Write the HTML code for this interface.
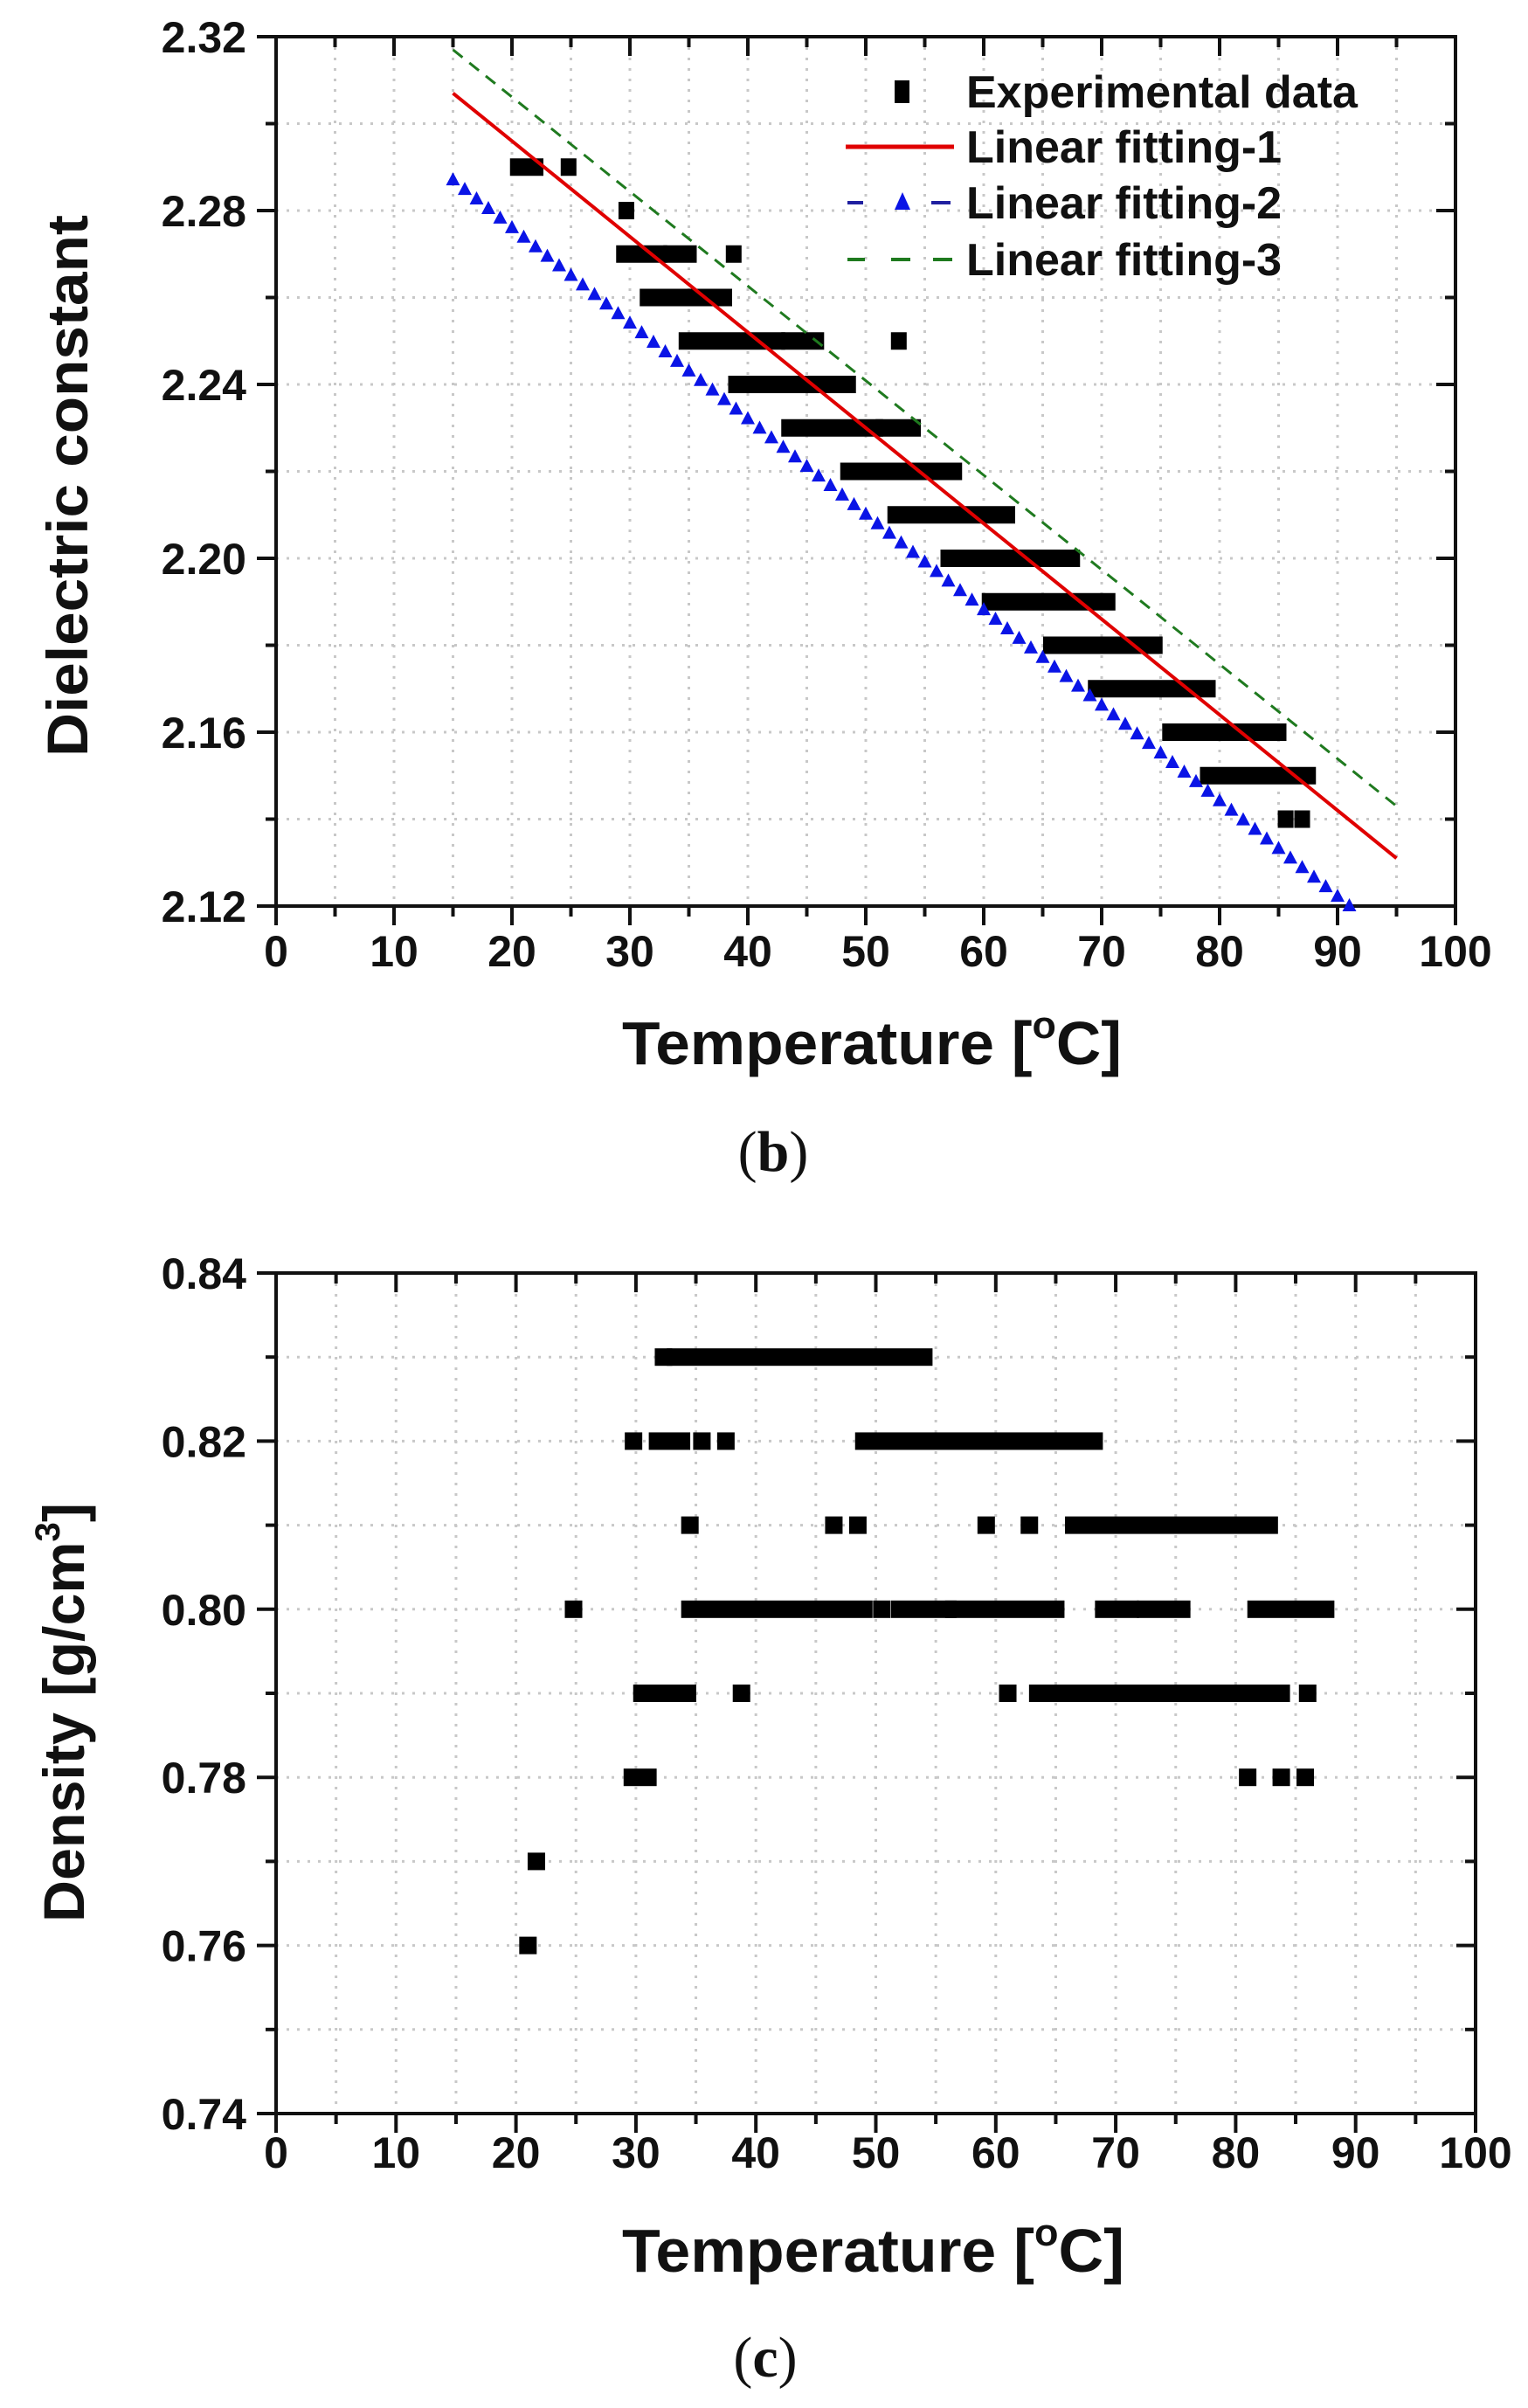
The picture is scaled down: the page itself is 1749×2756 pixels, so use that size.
<!DOCTYPE html>
<html><head><meta charset="utf-8"><style>
body{margin:0;background:#fff}
svg{display:block}
text{font-family:"Liberation Sans",Arial,sans-serif;font-weight:bold;fill:#111}
</style></head><body>
<svg id="fig" xmlns="http://www.w3.org/2000/svg" width="1749" height="2756" viewBox="0 0 1749 2756"></svg>
<script>
// ---------- chart (b) data ----------
const bRowValues = [2.29,2.29,2.28,2.27,2.27,2.27,2.26,2.25,2.25,2.25,2.24,2.23,2.23,2.22,2.21,2.20,2.19,2.18,2.17,2.16,2.16,2.15,2.14,2.14];
const bRowStart  = [20.5,24.8,29.7,29.5,33.5,38.8,31.5,34.8,43.5,52.8,39.0,43.5,51.5,48.5,52.5,57.0,60.5,65.7,69.5,75.8,79.0,79.0,85.6,87.0];
const bRowEnd    = [22.0,24.8,29.7,32.5,35.0,38.8,38.0,42.5,45.8,52.8,48.5,50.8,54.0,57.5,62.0,67.5,70.5,74.5,79.0,78.0,85.0,87.5,85.6,87.0];
const fitNames = ['Linear fitting-1','Linear fitting-2','Linear fitting-3'];
const fitX0 = [15,15,15];
const fitY0 = [2.307,2.287,2.317];
const fitX1 = [95,91,95];
const fitY1 = [2.131,2.120,2.143];
const bXTicks = [0,10,20,30,40,50,60,70,80,90,100];
const bYTicks = [2.12,2.16,2.20,2.24,2.28,2.32];
// ---------- chart (c) data ----------
const cRowValues = [0.83,0.83,0.82,0.82,0.82,0.82,0.82,0.81,0.81,0.81,0.81,0.81,0.81,0.80,0.80,0.80,0.80,0.80,0.80,0.80,0.80,0.79,0.79,0.79,0.79,0.79,0.79,0.79,0.79,0.78,0.78,0.78,0.78,0.77,0.76];
const cRowStart  = [32.3,33.3,29.8,31.8,35.5,37.5,49.0,34.5,46.5,48.5,59.2,62.8,66.5,24.8,34.5,50.5,52.0,56.5,69.0,72.5,81.7,30.5,38.8,61.0,63.5,66.8,70.3,78.7,86.0,29.7,81.0,83.8,85.8,21.7,21.0];
const cRowEnd    = [32.3,54.0,29.8,33.8,35.5,37.5,68.2,34.5,46.5,48.5,59.2,62.8,82.8,24.8,49.0,50.5,56.0,65.0,71.2,75.5,87.5,34.3,38.8,61.0,66.0,69.0,78.0,83.8,86.0,31.0,81.0,83.8,85.8,21.7,21.0];
const cXTicks = [0,10,20,30,40,50,60,70,80,90,100];
const cYTicks = [0.74,0.76,0.78,0.80,0.82,0.84];

const NS='http://www.w3.org/2000/svg';
const svg=document.getElementById('fig');
function mk(tag,attrs,parent){const e=document.createElementNS(NS,tag);for(const k in attrs)e.setAttribute(k,attrs[k]);(parent||svg).appendChild(e);return e;}

function drawAxes(g,P,xTicks,yTicks,yMinorStep,yDec){
  const X=P.x,Y=P.y;
  for(let v=P.xmin+5;v<P.xmax;v+=5){const l=mk('line',{x1:X(v),x2:X(v),y1:P.top,y2:P.bot,stroke:'#c8c8c8','stroke-width':3,'stroke-dasharray':'3 9'},g);
    
    }
  for(let v=P.ymin+yMinorStep;v<P.ymax-1e-9;v+=yMinorStep){const l=mk('line',{x1:P.left,x2:P.right,y1:Y(v),y2:Y(v),stroke:'#c8c8c8','stroke-width':3,'stroke-dasharray':'3 9'},g);
    
    }
  const fr=mk('rect',{x:P.left,y:P.top,width:P.right-P.left,height:P.bot-P.top,fill:'none',stroke:'#111','stroke-width':4},g);
  
  
  for(let v=P.xmin;v<=P.xmax;v+=5){const major=(v%10===0);const len=major?22:12;
    mk('line',{x1:X(v),x2:X(v),y1:P.bot,y2:P.bot+len,stroke:'#111','stroke-width':4},g);
    mk('line',{x1:X(v),x2:X(v),y1:P.top,y2:P.top+len,stroke:'#111','stroke-width':4},g);}
  xTicks.forEach(v=>{const t=mk('text',{x:X(v),y:P.xlabY,'text-anchor':'middle','font-size':50},g);t.textContent=String(v);
    
    });
  for(let v=P.ymin;v<=P.ymax+1e-9;v+=yMinorStep){const idx=Math.round((v-P.ymin)/yMinorStep);const major=idx%2===0;const len=major?22:12;
    mk('line',{x1:P.left-len,x2:P.left,y1:Y(v),y2:Y(v),stroke:'#111','stroke-width':4},g);
    mk('line',{x1:P.right-len,x2:P.right,y1:Y(v),y2:Y(v),stroke:'#111','stroke-width':4},g);}
  yTicks.forEach(v=>{const t=mk('text',{x:P.left-34,y:Y(v)+18,'text-anchor':'end','font-size':50},g);t.textContent=v.toFixed(yDec);
    
    });
}

// ---------------- Chart B ----------------
const gB=mk('g',{});


const PB={left:316,right:1666,top:42,bot:1037,xmin:0,xmax:100,ymin:2.12,ymax:2.32,xlabY:1106};
PB.x=v=>PB.left+(v-PB.xmin)/(PB.xmax-PB.xmin)*(PB.right-PB.left);
PB.y=v=>PB.bot-(v-PB.ymin)/(PB.ymax-PB.ymin)*(PB.bot-PB.top);
drawAxes(gB,PB,bXTicks,bYTicks,0.02,2);
bRowValues.forEach((v,i)=>{const x0=PB.x(bRowStart[i])-9,x1=PB.x(bRowEnd[i])+9;
  const r=mk('rect',{x:x0,y:PB.y(v)-10,width:x1-x0,height:20,fill:'#000'},gB);
  
  });
{const l=mk('line',{x1:PB.x(fitX0[2]),y1:PB.y(fitY0[2]),x2:PB.x(fitX1[2]),y2:PB.y(fitY1[2]),stroke:'#1f7a1f','stroke-width':3,'stroke-dasharray':'14 10'},gB);
 
 }
{const l=mk('line',{x1:PB.x(fitX0[0]),y1:PB.y(fitY0[0]),x2:PB.x(fitX1[0]),y2:PB.y(fitY1[0]),stroke:'#e00000','stroke-width':4},gB);
 
 }
{const n=Math.round((fitX1[1]-fitX0[1])/1.0);
 for(let k=0;k<=n;k++){const t=fitX0[1]+(fitX1[1]-fitX0[1])*k/n;const yv=fitY0[1]+(fitY1[1]-fitY0[1])*k/n;
  const cx=PB.x(t),cy=PB.y(yv);
  const p=mk('polygon',{points:`${cx},${cy-9} ${cx-8},${cy+6} ${cx+8},${cy+6}`,fill:'#0a14e6'},gB);
  
  }}
{const lg=mk('g',{},gB);
 
 
 const tx=1106, rows=[105,168,232,297];
 const labels=['Experimental data'].concat(fitNames);
 mk('rect',{x:1024,y:rows[0]-13,width:17,height:26,fill:'#000'},lg);
 mk('line',{x1:968,x2:1092,y1:rows[1],y2:rows[1],stroke:'#e00000','stroke-width':5},lg);
 mk('line',{x1:970,x2:988,y1:rows[2],y2:rows[2],stroke:'#2020a0','stroke-width':4},lg);
 mk('line',{x1:1066,x2:1088,y1:rows[2],y2:rows[2],stroke:'#2020a0','stroke-width':4},lg);
 mk('polygon',{points:`1033,${rows[2]-12} 1024,${rows[2]+8} 1042,${rows[2]+8}`,fill:'#0a14e6'},lg);
 [[970,990],[1020,1042],[1068,1090]].forEach(s=>mk('line',{x1:s[0],x2:s[1],y1:rows[3],y2:rows[3],stroke:'#1f7a1f','stroke-width':4},lg));
 labels.forEach((s,i)=>{const t=mk('text',{x:tx,y:rows[i]+18,'font-size':52},lg);t.textContent=s;
   
   });
}
{const t=mk('text',{x:712,y:1218,'font-size':70,textLength:572,lengthAdjust:'spacingAndGlyphs'},gB);
 t.innerHTML='Temperature [<tspan dy="-30" font-size="44">o</tspan><tspan dy="30">C]</tspan>';
 
 }
{const t=mk('text',{x:0,y:0,'font-size':66,'text-anchor':'middle',transform:'translate(100,556) rotate(-90)',textLength:620,lengthAdjust:'spacingAndGlyphs'},gB);
 t.textContent='Dielectric constant';
 
 }
{const t=mk('text',{x:885,y:1340,'font-size':66,'text-anchor':'middle',style:'font-family:"Liberation Serif",serif;font-weight:normal'},gB);
 t.innerHTML='(<tspan font-weight="bold">b</tspan>)';
 
 }

// ---------------- Chart C ----------------
const gC=mk('g',{});


const PC={left:316,right:1689,top:1457,bot:2419,xmin:0,xmax:100,ymin:0.74,ymax:0.84,xlabY:2481};
PC.x=v=>PC.left+(v-PC.xmin)/(PC.xmax-PC.xmin)*(PC.right-PC.left);
PC.y=v=>PC.bot-(v-PC.ymin)/(PC.ymax-PC.ymin)*(PC.bot-PC.top);
drawAxes(gC,PC,cXTicks,cYTicks,0.01,2);
cRowValues.forEach((v,i)=>{const x0=PC.x(cRowStart[i])-10,x1=PC.x(cRowEnd[i])+10;
  const r=mk('rect',{x:x0,y:PC.y(v)-10,width:x1-x0,height:20,fill:'#000'},gC);
  
  });
{const t=mk('text',{x:712,y:2600,'font-size':70,textLength:575,lengthAdjust:'spacingAndGlyphs'},gC);
 t.innerHTML='Temperature [<tspan dy="-30" font-size="44">o</tspan><tspan dy="30">C]</tspan>';
 
 }
{const t=mk('text',{x:0,y:0,'font-size':66,'text-anchor':'middle',transform:'translate(96,1960) rotate(-90)',textLength:480,lengthAdjust:'spacingAndGlyphs'},gC);
 t.innerHTML='Density [g/cm<tspan dy="-28" font-size="40">3</tspan><tspan dy="28">]</tspan>';
 
 }
{const t=mk('text',{x:876,y:2720,'font-size':66,'text-anchor':'middle',style:'font-family:"Liberation Serif",serif;font-weight:normal'},gC);
 t.innerHTML='(<tspan font-weight="bold">c</tspan>)';
 
 }
</script>
</body></html>
